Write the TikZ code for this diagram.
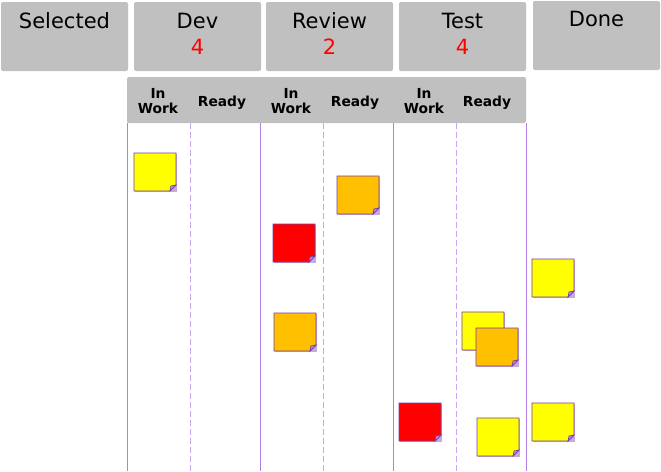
\documentclass[tikz,border=0pt]{standalone}
\usepackage{fontspec}
\setmainfont{DejaVu Sans}
\definecolor{hdrgray}{HTML}{C0C0C0}
\definecolor{lanepurple}{HTML}{B080E0}
\definecolor{dashpurple}{HTML}{C8A8EC}
\definecolor{cardedge}{HTML}{7840A8}
\definecolor{cardshadow}{HTML}{C8A8E0}
\definecolor{foldpurple}{HTML}{B890D8}
\definecolor{cyellow}{HTML}{FFFF00}
\definecolor{corange}{HTML}{FFC000}
\definecolor{cred}{HTML}{FF0000}
\newcommand\stickycard[3]{%
  % #1 = x left, #2 = y top (pixels), #3 = colour
  \begin{scope}[shift={(#1pt,-#2pt)}]
    \fill[cardshadow] (1pt,-1pt) rectangle (43pt,-39pt);
    \filldraw[fill=#3,draw=cardedge,line width=0.9pt]
      (0,0) -- (42pt,0) -- (42pt,-32pt) -- (36pt,-38pt) -- (0,-38pt) -- cycle;
    \filldraw[fill=foldpurple,draw=cardedge,line width=0.7pt]
      (42pt,-32pt) -- (37pt,-33pt) -- (36pt,-38pt) -- cycle;
  \end{scope}}
\tikzset{
  hdrbox/.style={fill=hdrgray,rounded corners=2pt},
  hdrtitle/.style={anchor=base,font=\fontsize{21}{24}\selectfont,inner sep=0pt},
  hdrcount/.style={anchor=base,font=\fontsize{21}{24}\selectfont,text=red,inner sep=0pt},
  sublabel/.style={anchor=base,font=\bfseries\fontsize{13.8}{15}\selectfont,inner sep=0pt,align=center},
  laneline/.style={draw=lanepurple,line width=0.8pt},
  subline/.style={draw=dashpurple,line width=0.8pt,dash pattern=on 6pt off 3pt},
}
\begin{document}
\begin{tikzpicture}[x=1pt,y=1pt]
\useasboundingbox[fill=white] (0,0) rectangle (661,-471);
% header boxes
\path[hdrbox] (1,-2) rectangle (128,-71);
\path[hdrbox] (134,-2) rectangle (261,-71);
\path[hdrbox] (266,-2) rectangle (393,-71);
\path[hdrbox] (399,-2) rectangle (526,-71);
\path[hdrbox] (533,-1) rectangle (660,-70);
\node[hdrtitle] (selT) at (64.5,-28) {Selected};
\node[hdrtitle] (devT) at (197.5,-28) {Dev};
\node[hdrcount] (devN) at (197.5,-54) {4};
\node[hdrtitle] (revT) at (329.5,-28) {Review};
\node[hdrcount] (revN) at (329.5,-54) {2};
\node[hdrtitle] (tstT) at (462.5,-28) {Test};
\node[hdrcount] (tstN) at (462.5,-54) {4};
\node[hdrtitle] (donT) at (596.5,-27) {Done};
% sub-header
\path[hdrbox] (127,-77) rectangle (526,-123);
\node[sublabel] (dIn) at (158,-98) {In};
\node[sublabel] (dWk) at (158,-113) {Work};
\node[sublabel] (dRd) at (222,-106) {Ready};
\node[sublabel] (rIn) at (291,-98) {In};
\node[sublabel] (rWk) at (291,-113) {Work};
\node[sublabel] (rRd) at (355,-106) {Ready};
\node[sublabel] (tIn) at (424,-98) {In};
\node[sublabel] (tWk) at (424,-113) {Work};
\node[sublabel] (tRd) at (487,-106) {Ready};
% lane lines
\foreach \x in {127.5,260.5,393.5,526.5} \draw[laneline] (\x,-123) -- (\x,-471);
\foreach \x in {190.5,323.5,456.5} \draw[subline] (\x,-123) -- (\x,-471);
% cards
\stickycard{134}{153}{cyellow}
\stickycard{337}{176}{corange}
\stickycard{273}{224}{cred}
\stickycard{532}{259}{cyellow}
\stickycard{274}{313}{corange}
\stickycard{462}{312}{cyellow}
\stickycard{476}{328}{corange}
\stickycard{399}{403}{cred}
\stickycard{477}{418}{cyellow}
\stickycard{532}{403}{cyellow}
\end{tikzpicture}
\end{document}
